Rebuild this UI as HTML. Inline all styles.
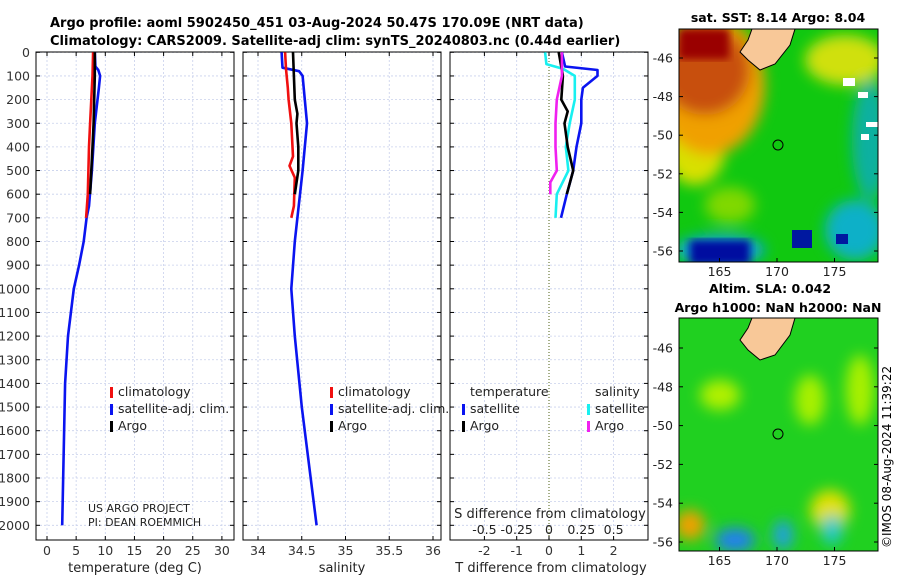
<!DOCTYPE html>
<html><head><meta charset="utf-8"><style>
body{margin:0;background:#fff;width:900px;height:580px;overflow:hidden;font-family:"DejaVu Sans","Liberation Sans",sans-serif}
svg{display:block}
text{font-family:"DejaVu Sans","Liberation Sans",sans-serif}
</style></head><body>
<svg id="fig" width="900" height="580" viewBox="0 0 900 580">
<defs>
<filter id="blur6"><feGaussianBlur stdDeviation="7"/></filter>
<filter id="blur3"><feGaussianBlur stdDeviation="4"/></filter>
<clipPath id="c1"><rect x="679" y="29" width="199" height="233"/></clipPath>
<clipPath id="c2"><rect x="679" y="318" width="199" height="233"/></clipPath>
</defs>
<text x="50" y="27" font-size="13" font-weight="bold">Argo profile: aoml 5902450_451 03-Aug-2024 50.47S 170.09E (NRT data)</text>
<text x="50" y="45" font-size="13" font-weight="bold">Climatology: CARS2009. Satellite-adj clim: synTS_20240803.nc (0.44d earlier)</text>

<!-- SST map -->
<text x="778" y="22" font-size="12.5" font-weight="bold" text-anchor="middle">sat. SST: 8.14 Argo: 8.04</text>
<g clip-path="url(#c1)">
<rect x="679" y="29" width="199" height="233" fill="#10c810"/>
<g filter="url(#blur6)">
<ellipse cx="695" cy="150" rx="30" ry="35" fill="#d8e000"/>
<ellipse cx="710" cy="85" rx="55" ry="70" fill="#f0a000"/>
<ellipse cx="705" cy="70" rx="45" ry="45" fill="#c85010"/>
<ellipse cx="845" cy="60" rx="40" ry="25" fill="#d0e010"/>
<ellipse cx="730" cy="205" rx="25" ry="18" fill="#80d800"/>
<ellipse cx="870" cy="140" rx="18" ry="60" fill="#10b0a0"/>
<ellipse cx="855" cy="230" rx="30" ry="30" fill="#10b0c8"/>
<ellipse cx="720" cy="250" rx="45" ry="15" fill="#10a0e0"/>
</g>
<rect x="679" y="29" width="50" height="30" fill="#9a0000" filter="url(#blur3)"/>
<rect x="690" y="240" width="60" height="25" fill="#0010a0" filter="url(#blur3)"/>
<rect x="792" y="230" width="20" height="18" fill="#0018a0"/>
<rect x="836" y="234" width="12" height="10" fill="#0018a0"/>
<path d="M752 29 L795 29 L790 45 L775 64 L760 70 L748 60 L740 52 L748 40 Z" fill="#f8c898" stroke="#000" stroke-width="1"/>
<rect x="843" y="78" width="12" height="8" fill="#fff"/><rect x="858" y="92" width="10" height="6" fill="#fff"/><rect x="866" y="122" width="12" height="5" fill="#fff"/><rect x="861" y="134" width="8" height="6" fill="#fff"/>
<circle cx="778" cy="145" r="5" fill="none" stroke="#000"/>
</g>
<rect x="679" y="29" width="199" height="233" fill="none" stroke="#000"/>

<!-- SLA map -->
<text x="770" y="293" font-size="12.5" font-weight="bold" text-anchor="middle">Altim. SLA: 0.042</text>
<text x="778" y="312" font-size="12.5" font-weight="bold" text-anchor="middle">Argo h1000: NaN h2000: NaN</text>
<g clip-path="url(#c2)">
<rect x="679" y="318" width="199" height="233" fill="#20d020"/>
<g filter="url(#blur6)">
<ellipse cx="720" cy="395" rx="20" ry="15" fill="#b0f000"/>
<ellipse cx="810" cy="400" rx="15" ry="25" fill="#a8f000"/>
<ellipse cx="860" cy="390" rx="14" ry="35" fill="#a8f000"/>
<ellipse cx="830" cy="510" rx="20" ry="20" fill="#e0e000"/>
<ellipse cx="690" cy="525" rx="15" ry="15" fill="#f0a000"/>
<ellipse cx="735" cy="540" rx="20" ry="12" fill="#2080f0"/>
<ellipse cx="783" cy="535" rx="10" ry="15" fill="#20a0e0"/>
<ellipse cx="832" cy="530" rx="10" ry="15" fill="#20c8d0"/>
</g>
<path d="M752 318 L795 318 L790 335 L775 355 L760 360 L748 350 L740 340 L748 328 Z" fill="#f8c898" stroke="#000" stroke-width="1"/>
<circle cx="778" cy="434" r="5" fill="none" stroke="#000"/>
</g>
<rect x="679" y="318" width="199" height="233" fill="none" stroke="#000"/>
<text transform="translate(891,548) rotate(-90)" font-size="12">©IMOS 08-Aug-2024 11:39:22</text>
<g id="dyn"></g>
</svg>
<script>
// ---- data ----
const depthTicks=[0,100,200,300,400,500,600,700,800,900,1000,1100,1200,1300,1400,1500,1600,1700,1800,1900,2000];
const tTicks=[0,5,10,15,20,25,30];
const sTicks=[34,34.5,35,35.5,36];
const dTTicks=[-2,-1,0,1,2];
const dSTicks=[-0.5,-0.25,0,0.25,0.5];
const dSTickLabels=["-0.5","-0.25","0","0.25","0.5"];
const latTicks=[-46,-48,-50,-52,-54,-56];
const lonTicks=[165,170,175];
// temperature
const tClimDepth=[0,100,200,300,400,500,600,700];
const tClim=[7.9,7.8,7.6,7.4,7.2,7.1,7.0,6.7];
const tSatDepth=[0,60,75,100,150,300,500,650,700,800,900,1000,1200,1400,2000];
const tSat=[8.2,8.3,8.8,9.1,8.9,8.2,7.7,7.2,6.8,6.3,5.5,4.6,3.6,3.1,2.6];
const tArgoDepth=[0,100,200,300,400,500,600];
const tArgo=[8.2,8.2,8.1,8.0,7.8,7.6,7.4];
// salinity
const sClimDepth=[0,70,150,200,300,440,480,530,650,700];
const sClim=[34.31,34.32,34.34,34.35,34.38,34.40,34.36,34.42,34.41,34.38];
const sSatDepth=[0,65,80,100,300,500,700,800,1000,1200,1500,2000];
const sSat=[34.27,34.28,34.47,34.51,34.56,34.51,34.45,34.42,34.38,34.42,34.50,34.67];
const sArgoDepth=[0,200,260,300,400,500,600];
const sArgo=[34.40,34.42,34.45,34.44,34.46,34.46,34.42];
// differences
const dTSatDepth=[0,60,75,100,150,200,300,400,500,600,700];
const dTSat=[0.4,0.5,1.5,1.5,1.05,1.0,1.0,0.85,0.75,0.55,0.37];
const dTArgoDepth=[0,100,200,250,300,400,500,600];
const dTArgo=[0.3,0.43,0.38,0.58,0.48,0.58,0.75,0.55];
const dSSatDepth=[0,50,70,100,200,300,400,500,600,700];
const dSSat=[-0.03,-0.02,0.11,0.2,0.2,0.16,0.13,0.15,0.06,0.05];
const dSArgoDepth=[0,100,200,300,400,500,550,600];
const dSArgo=[0.1,0.1,0.06,0.05,0.05,0.06,0.01,0.01];

const NS='http://www.w3.org/2000/svg';
const root=document.getElementById('dyn');
function mk(tag,attrs,parent){const e=document.createElementNS(NS,tag);for(const k in attrs)e.setAttribute(k,attrs[k]);(parent||root).appendChild(e);return e;}
const PT=52, PB=540;
const yD=d=>52.3+d*0.2365;
const panels=[
 {x0:36,x1:234,xf:v=>47+v*5.83},
 {x0:243,x1:441,xf:v=>258+(v-34)*87.5},
 {x0:450,x1:648,xf:v=>549+v*32.3}
];
const dSx=v=>549+v*129.2;
panels.forEach((p,i)=>{
 const g=mk('g',{});
 
 
 const ticks=i==0?tTicks:i==1?sTicks:dTTicks;
 depthTicks.forEach(d=>{const l=mk('line',{x1:p.x0,x2:p.x1,y1:yD(d),y2:yD(d),stroke:'#c8d0ec','stroke-dasharray':'2,2','stroke-width':0.8},g);
  
  mk('line',{x1:p.x0,x2:p.x0+4,y1:yD(d),y2:yD(d),stroke:'#000'},g);mk('line',{x1:p.x1-4,x2:p.x1,y1:yD(d),y2:yD(d),stroke:'#000'},g);});
 ticks.forEach(v=>{const x=p.xf(v);const l=mk('line',{x1:x,x2:x,y1:PT,y2:PB,stroke:i==2&&v==0?'#6a7a3a':'#c8d0ec','stroke-dasharray':i==2&&v==0?'1,2':'2,2','stroke-width':i==2&&v==0?1.2:0.8},g);
  
  mk('line',{x1:x,x2:x,y1:PB-4,y2:PB,stroke:'#000'},g);mk('line',{x1:x,x2:x,y1:PT,y2:PT+4,stroke:'#000'},g);
  const t=mk('text',{x:x,y:555,'font-size':12.5,'text-anchor':'middle',fill:'#333'},g);t.textContent=String(v);
  });
 const fr=mk('rect',{x:p.x0,y:PT,width:p.x1-p.x0,height:PB-PT,fill:'none',stroke:'#000'},g);
 
});
depthTicks.forEach(d=>{const t=mk('text',{x:30,y:yD(d)+4.5,'font-size':12.5,'text-anchor':'end',fill:'#333'});t.textContent=String(d);
 });
function line(ds,vs,xf,col,name,w){const pts=ds.map((d,i)=>xf(vs[i]).toFixed(1)+','+yD(d).toFixed(1)).join(' ');
 const e=mk('polyline',{points:pts,fill:'none',stroke:col,'stroke-width':w||2.6,'stroke-linejoin':'round'});
 }
line(tSatDepth,tSat,panels[0].xf,'#0a14f0','temp-satellite-line');
line(tClimDepth,tClim,panels[0].xf,'#f01010','temp-climatology-line');
line(tArgoDepth,tArgo,panels[0].xf,'#000','temp-argo-line');
line(sSatDepth,sSat,panels[1].xf,'#0a14f0','sal-satellite-line');
line(sClimDepth,sClim,panels[1].xf,'#f01010','sal-climatology-line');
line(sArgoDepth,sArgo,panels[1].xf,'#000','sal-argo-line');
line(dTSatDepth,dTSat,panels[2].xf,'#0a14f0','dT-satellite-line');
line(dSSatDepth,dSSat,dSx,'#18f0f0','dS-satellite-line');
line(dTArgoDepth,dTArgo,panels[2].xf,'#000','dT-argo-line');
line(dSArgoDepth,dSArgo,dSx,'#f020f0','dS-argo-line');
function txt(x,y,s,name,size,anchor){const t=mk('text',{x:x,y:y,'font-size':size||12.5,'text-anchor':anchor||'start',fill:'#222'});t.textContent=s;
 return t;}
function leg(x,y,col,s,name){const r=mk('rect',{x:x,y:y-9,width:3,height:11,fill:col});txt(x+8,y,s,name);}
[[110,'#f01010','climatology'],[110,'#0a14f0','satellite-adj. clim.'],[110,'#000','Argo']].forEach((l,i)=>leg(l[0],396+i*17,l[1],l[2],'legend-entry-'+(i+1)));
[[330,'#f01010','climatology'],[330,'#0a14f0','satellite-adj. clim.'],[330,'#000','Argo']].forEach((l,i)=>leg(l[0],396+i*17,l[1],l[2],'sal-legend-entry-'+(i+1)));
txt(470,396,'temperature','diff-legend-temp-header');txt(595,396,'salinity','diff-legend-sal-header');
leg(462,413,'#0a14f0','satellite','diff-legend-temp-sat');leg(462,430,'#000','Argo','diff-legend-temp-argo');
leg(587,413,'#18f0f0','satellite','diff-legend-sal-sat');leg(587,430,'#f020f0','Argo','diff-legend-sal-argo');
txt(88,512,'US ARGO PROJECT','project-label',11);txt(88,526,'PI: DEAN ROEMMICH','pi-label',11);
txt(550,518,'S difference from climatology','s-diff-axis-title',13,'middle');
dSTicks.forEach((v,i)=>{const t=txt(dSx(v),534,dSTickLabels[i],'s-diff-tick-label',12.5,'middle');});
txt(135,572,'temperature (deg C)','x-axis-title-temperature',13,'middle');
txt(342,572,'salinity','x-axis-title-salinity',13,'middle');
txt(551,572,'T difference from climatology','x-axis-title-tdiff',13,'middle');
// map axes
const maps=[{y0:29,y1:262,lat:v=>58+(-46-v)*19.3},{y0:318,y1:551,lat:v=>348+(-46-v)*19.4}];
const lonX=v=>777+(v-170)*11.5;
maps.forEach((m,mi)=>{
 latTicks.forEach(v=>{const y=m.lat(v);mk('line',{x1:679,x2:683,y1:y,y2:y,stroke:'#000'});mk('line',{x1:874,x2:878,y1:y,y2:y,stroke:'#000'});
  txt(673,y+4.5,String(v),'map'+(mi+1)+'-lat-tick-label',12.5,'end');});
 lonTicks.forEach(v=>{const x=lonX(v);mk('line',{x1:x,x2:x,y1:m.y1-4,y2:m.y1,stroke:'#000'});
  txt(x,m.y1+14,String(v),'map'+(mi+1)+'-lon-tick-label',12.5,'middle');});
});
</script>
</body></html>
